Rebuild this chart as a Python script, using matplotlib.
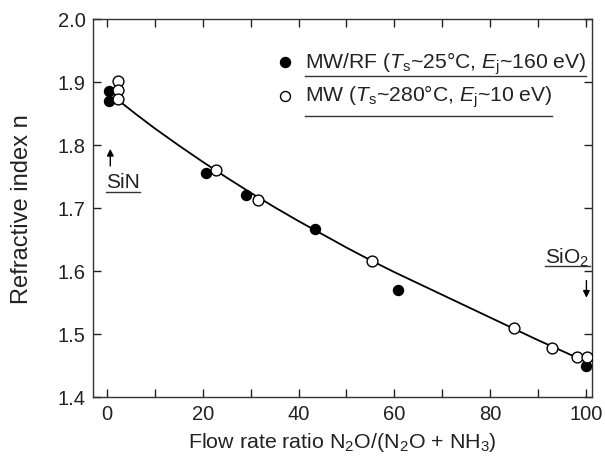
import matplotlib
matplotlib.use('Agg')
import matplotlib.pyplot as plt
from matplotlib.ticker import MultipleLocator

plt.rcParams['font.family'] = ['Liberation Sans', 'DejaVu Sans']
plt.rcParams['mathtext.fontset'] = 'custom'
plt.rcParams['mathtext.rm'] = 'Liberation Sans'
plt.rcParams['mathtext.it'] = 'Liberation Sans:italic'

# MW/RF (filled)
rf_x = [0.5, 0.5, 20.7, 29.1, 43.4, 60.8, 100.0]
rf_n = [1.885, 1.869, 1.756, 1.721, 1.667, 1.570, 1.449]
# MW (open)
mw_x = [2.3, 2.3, 2.3, 22.7, 31.5, 55.4, 85.0, 93.0, 98.1, 100.2]
mw_n = [1.902, 1.887, 1.872, 1.760, 1.713, 1.616, 1.510, 1.477, 1.463, 1.463]
# guide curve
fit_x = [2.5, 6, 10, 15, 20, 25, 30, 35, 40, 45, 50, 55, 60, 65, 70, 75, 80, 85, 90, 95, 100]
fit_n = [1.870, 1.849, 1.826, 1.799, 1.773, 1.748, 1.724, 1.701, 1.679, 1.658, 1.637, 1.617, 1.598,
         1.580, 1.562, 1.544, 1.526, 1.508, 1.490, 1.473, 1.456]

labels = ['MW/RF ($T_\\mathrm{s}$~25°C, $E_\\mathrm{j}$~160 eV)',
          'MW ($T_\\mathrm{s}$~280°C, $E_\\mathrm{j}$~10 eV)']

fig = plt.figure(figsize=(6.05, 4.6), dpi=100)
ax = fig.add_axes([0.153, 0.135, 0.825, 0.822])

ax.plot(fit_x, fit_n, color='black', lw=1.3, zorder=2)
ax.plot(rf_x, rf_n, 'o', ms=7.2, mfc='black', mec='black', zorder=3)
ax.plot(mw_x, mw_n, 'o', ms=7.8, mfc='white', mec='black', mew=1.0, zorder=3)

ax.set_xlim(-3, 101.2)
ax.set_ylim(1.4, 2.0)
ax.xaxis.set_major_locator(MultipleLocator(20))
ax.xaxis.set_minor_locator(MultipleLocator(10))
ax.yaxis.set_major_locator(MultipleLocator(0.1))
ax.yaxis.set_major_formatter(plt.FormatStrFormatter('%.1f'))
ax.tick_params(which='both', direction='in', top=True, right=True, length=6, width=1,
               labelsize=14.5, colors='#222222', pad=5)
for s in ax.spines.values():
    s.set_linewidth(1.0)
    s.set_color('#333333')

ax.set_xlabel('Flow rate ratio N$_2$O/(N$_2$O + NH$_3$)', fontsize=15.4, color='#222222', labelpad=5)
ax.set_ylabel('Refractive index n', fontsize=17, color='#222222', labelpad=18)

# legend drawn by hand with underlined entries
ax.plot([37.1], [1.931], 'o', ms=7.2, mfc='black', mec='black')
ax.plot([37.1], [1.878], 'o', ms=7.2, mfc='white', mec='black')
t1 = ax.text(41.3, 1.931, labels[0], fontsize=15.2, va='center', color='#222222')
t2 = ax.text(41.3, 1.878, labels[1], fontsize=15.2, va='center', color='#222222')

# SiN / SiO2 markers
ax.annotate('', xy=(0.7, 1.798), xytext=(0.7, 1.762),
            arrowprops=dict(arrowstyle='-|>', color='black', lw=1, mutation_scale=10))
t3 = ax.text(-0.2, 1.733, 'SiN', fontsize=15, va='baseline', color='#222222')
ax.annotate('', xy=(100.1, 1.553), xytext=(100.1, 1.589),
            arrowprops=dict(arrowstyle='-|>', color='black', lw=1, mutation_scale=10))
t4 = ax.text(100.8, 1.613, 'SiO$_2$', fontsize=15, va='baseline', ha='right', color='#222222')

fig.canvas.draw()
r = fig.canvas.get_renderer()
inv = ax.transData.inverted()
for t, uy in [(t1, 1.909), (t2, 1.846), (t3, 1.725), (t4, 1.607)]:
    bb = t.get_window_extent(r)
    x0 = inv.transform((bb.x0, bb.y0))[0]
    x1 = inv.transform((bb.x1, bb.y0))[0]
    ax.plot([x0, x1], [uy, uy], color='#333333', lw=1.0)

fig.savefig('out.png', dpi=100)
